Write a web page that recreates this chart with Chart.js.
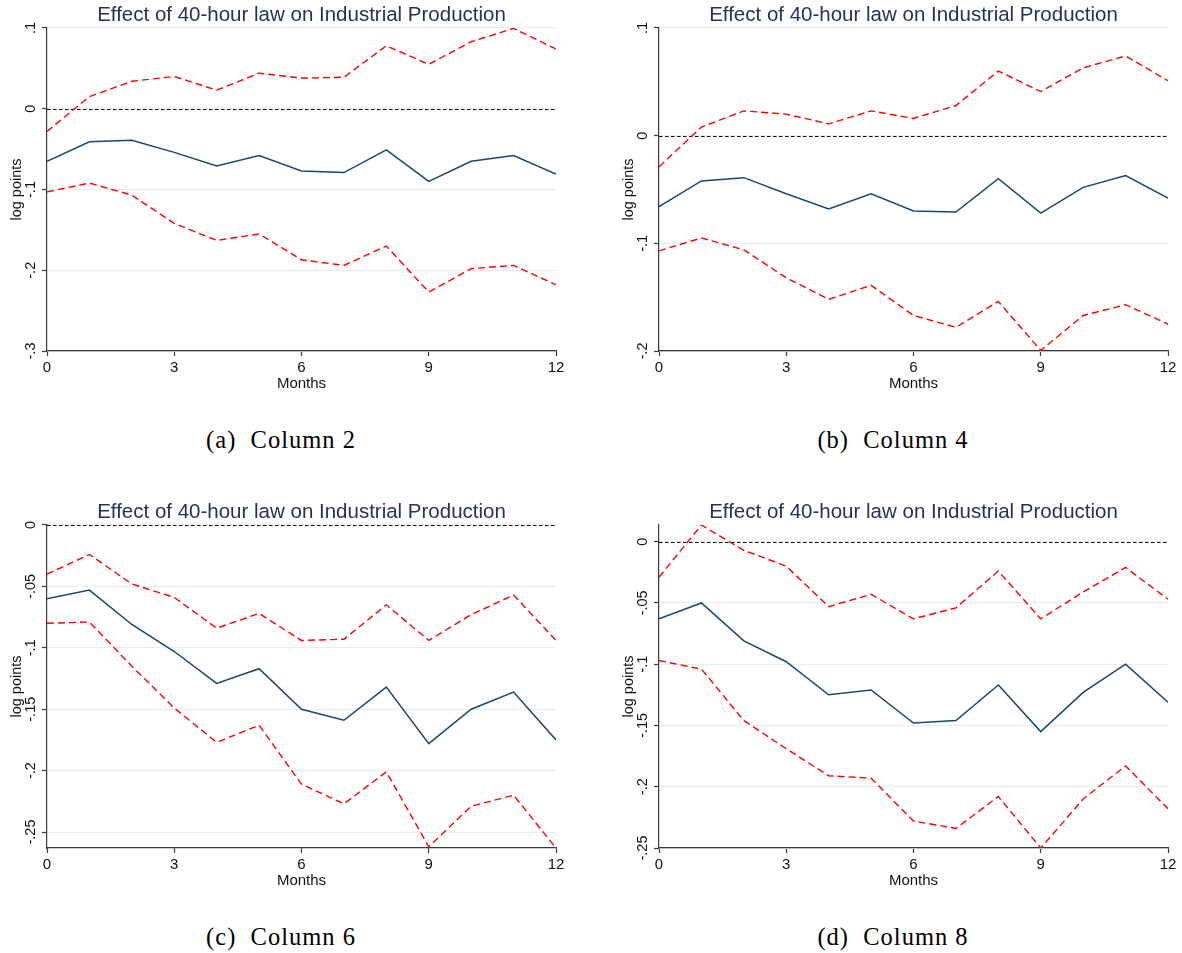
<!DOCTYPE html>
<html>
<head>
<meta charset="utf-8">
<script src="https://cdn.jsdelivr.net/npm/chart.js@4.4.0/dist/chart.umd.min.js"></script>
<style>
  body { margin: 0; background: #fff; width: 1182px; height: 953px; overflow: hidden; position: relative; }
  .panel { position: absolute; width: 570px; height: 400px; }
  .caption { position: absolute; width: 320px; text-align: center; font-family: "Liberation Serif", serif; font-size: 24.5px; letter-spacing: 1px; color: #000; white-space: pre; }
</style>
</head>
<body>
<div class="panel" style="left:0;top:0"><canvas id="colTwo" width="570" height="400"></canvas></div>
<div class="panel" style="left:612px;top:0"><canvas id="colFour" width="570" height="400"></canvas></div>
<div class="panel" style="left:0;top:497px"><canvas id="colSix" width="570" height="400"></canvas></div>
<div class="panel" style="left:612px;top:497px"><canvas id="colEight" width="570" height="400"></canvas></div>
<div class="caption" style="left:121px;top:426px">(a)  Column 2</div>
<div class="caption" style="left:733px;top:426px">(b)  Column 4</div>
<div class="caption" style="left:121px;top:923px">(c)  Column 6</div>
<div class="caption" style="left:733px;top:923px">(d)  Column 8</div>
<script>
const months = [0, 1, 2, 3, 4, 5, 6, 7, 8, 9, 10, 11, 12];
const xTicks = [0, 3, 6, 9, 12];

// column 2
const upperA = [-0.028, 0.015, 0.034, 0.040, 0.023, 0.044, 0.038, 0.039, 0.078, 0.055, 0.083, 0.0995, 0.074];
const meanA = [-0.065, -0.041, -0.039, -0.054, -0.071, -0.058, -0.077, -0.079, -0.051, -0.090, -0.065, -0.058, -0.081];
const lowerA = [-0.103, -0.092, -0.107, -0.142, -0.163, -0.155, -0.187, -0.194, -0.170, -0.227, -0.198, -0.194, -0.218];
const yTicksA = [0.1, 0, -0.1, -0.2, -0.3];

// column 4
const upperB = [-0.029, 0.008, 0.023, 0.020, 0.011, 0.023, 0.016, 0.028, 0.060, 0.041, 0.063, 0.074, 0.051];
const meanB = [-0.066, -0.042, -0.039, -0.054, -0.068, -0.054, -0.070, -0.071, -0.040, -0.072, -0.048, -0.037, -0.058];
const lowerB = [-0.107, -0.095, -0.106, -0.132, -0.152, -0.139, -0.167, -0.178, -0.154, -0.1995, -0.167, -0.157, -0.175];
const yTicksB = [0.1, 0, -0.1, -0.2];

// column 6
const upperC = [-0.040, -0.024, -0.048, -0.059, -0.084, -0.072, -0.094, -0.093, -0.065, -0.094, -0.073, -0.057, -0.094];
const meanC = [-0.060, -0.053, -0.081, -0.103, -0.129, -0.117, -0.150, -0.159, -0.132, -0.178, -0.150, -0.136, -0.175];
const lowerC = [-0.080, -0.079, -0.115, -0.149, -0.177, -0.163, -0.211, -0.227, -0.201, -0.262, -0.229, -0.220, -0.263];
const yTicksC = [0, -0.05, -0.1, -0.15, -0.2, -0.25];

// column 8
const upperD = [-0.029, 0.0136, -0.007, -0.020, -0.053, -0.043, -0.063, -0.054, -0.024, -0.063, -0.041, -0.021, -0.047];
const meanD = [-0.063, -0.050, -0.081, -0.098, -0.125, -0.121, -0.148, -0.146, -0.117, -0.155, -0.123, -0.100, -0.131];
const lowerD = [-0.097, -0.104, -0.146, -0.169, -0.191, -0.193, -0.228, -0.234, -0.208, -0.250, -0.210, -0.183, -0.218];
const yTicksD = [0, -0.05, -0.1, -0.15, -0.2, -0.25];

const titleText = "Effect of 40-hour law on Industrial Production";
const axisColor = "#3a3a3a";
const fontFamily = "'Liberation Sans', Arial, sans-serif";

// stata style labels: ".1", "-.05", "0"
function fmt(v) {
  const s = String(Math.round(v * 1000) / 1000);
  return s.replace(/^(-?)0\./, "$1.");
}

// dashed zero line and rotated y tick labels
const stataBits = {
  id: "stataBits",
  beforeDatasetsDraw(chart) {
    const { ctx, chartArea, scales } = chart;
    const y0 = scales.y.getPixelForValue(0);
    ctx.save();
    ctx.strokeStyle = "#000";
    ctx.lineWidth = 1.2;
    ctx.setLineDash([3.5, 2.5]);
    ctx.beginPath();
    ctx.moveTo(chartArea.left, Math.round(y0) + 0.5);
    ctx.lineTo(chartArea.right, Math.round(y0) + 0.5);
    ctx.stroke();
    ctx.restore();
  },
  afterDraw(chart) {
    const { ctx, chartArea, scales } = chart;
    ctx.save();
    ctx.fillStyle = "#111";
    ctx.font = "14.5px " + fontFamily;
    ctx.textAlign = "center";
    ctx.textBaseline = "alphabetic";
    scales.y.ticks.forEach(t => {
      const y = scales.y.getPixelForValue(t.value);
      ctx.save();
      ctx.translate(chartArea.left - 12, y);
      ctx.rotate(-Math.PI / 2);
      ctx.fillText(fmt(t.value), 0, 0);
      ctx.restore();
    });
    ctx.restore();
  }
};

function drawPanel(id, upper, mean, lower, yTicks) {
  const yMin = Math.min(...lower, ...yTicks);
  const yMax = Math.max(...upper, ...yTicks);
  const pts = vals => months.map((m, i) => ({ x: m, y: vals[i] }));
  const band = { borderColor: "#ff0000", borderWidth: 1.4, borderDash: [7, 4], pointRadius: 0, tension: 0, fill: false };

  new Chart(document.getElementById(id), {
    type: "line",
    data: {
      datasets: [
        Object.assign({ data: pts(upper) }, band),
        { data: pts(mean), borderColor: "#1a476f", borderWidth: 1.5, pointRadius: 0, tension: 0, fill: false },
        Object.assign({ data: pts(lower) }, band)
      ]
    },
    options: {
      responsive: false,
      animation: false,
      devicePixelRatio: 1,
      layout: { padding: { top: 0, right: 14, bottom: 0, left: 0 } },
      plugins: {
        legend: { display: false },
        tooltip: { enabled: false },
        title: {
          display: true,
          text: titleText,
          fullSize: false,
          color: "#23335a",
          font: { family: fontFamily, size: 20.5, weight: "normal" },
          padding: { top: 3, bottom: 0.4 }
        }
      },
      scales: {
        x: {
          type: "linear",
          min: 0,
          max: 12,
          afterBuildTicks: s => { s.ticks = xTicks.map(v => ({ value: v })); },
          afterFit: s => { s.height = 49; s.paddingLeft = 0; s.paddingRight = 0; },
          grid: { drawOnChartArea: false, tickLength: 5, tickColor: axisColor, tickWidth: 1.2 },
          border: { color: axisColor, width: 1.2 },
          ticks: { color: "#111", padding: 3, maxRotation: 0, font: { family: fontFamily, size: 15 } },
          title: { display: true, text: "Months", color: "#111", padding: { top: 0, bottom: 7 }, font: { family: fontFamily, size: 15 } }
        },
        y: {
          min: yMin,
          max: yMax,
          afterBuildTicks: s => { s.ticks = yTicks.map(v => ({ value: v })); },
          afterFit: s => { s.width = 47; s.paddingTop = 0; s.paddingBottom = 0; },
          grid: { color: "#e4eef0", lineWidth: 1, tickLength: 5, tickColor: axisColor, tickWidth: 1.2 },
          border: { color: axisColor, width: 1.2 },
          ticks: { display: false },
          title: { display: true, text: "log points", color: "#111", padding: { top: 8, bottom: 0 }, font: { family: fontFamily, size: 14.5 } }
        }
      }
    },
    plugins: [stataBits]
  });
}

drawPanel("colTwo", upperA, meanA, lowerA, yTicksA);
drawPanel("colFour", upperB, meanB, lowerB, yTicksB);
drawPanel("colSix", upperC, meanC, lowerC, yTicksC);
drawPanel("colEight", upperD, meanD, lowerD, yTicksD);
</script>
</body>
</html>
